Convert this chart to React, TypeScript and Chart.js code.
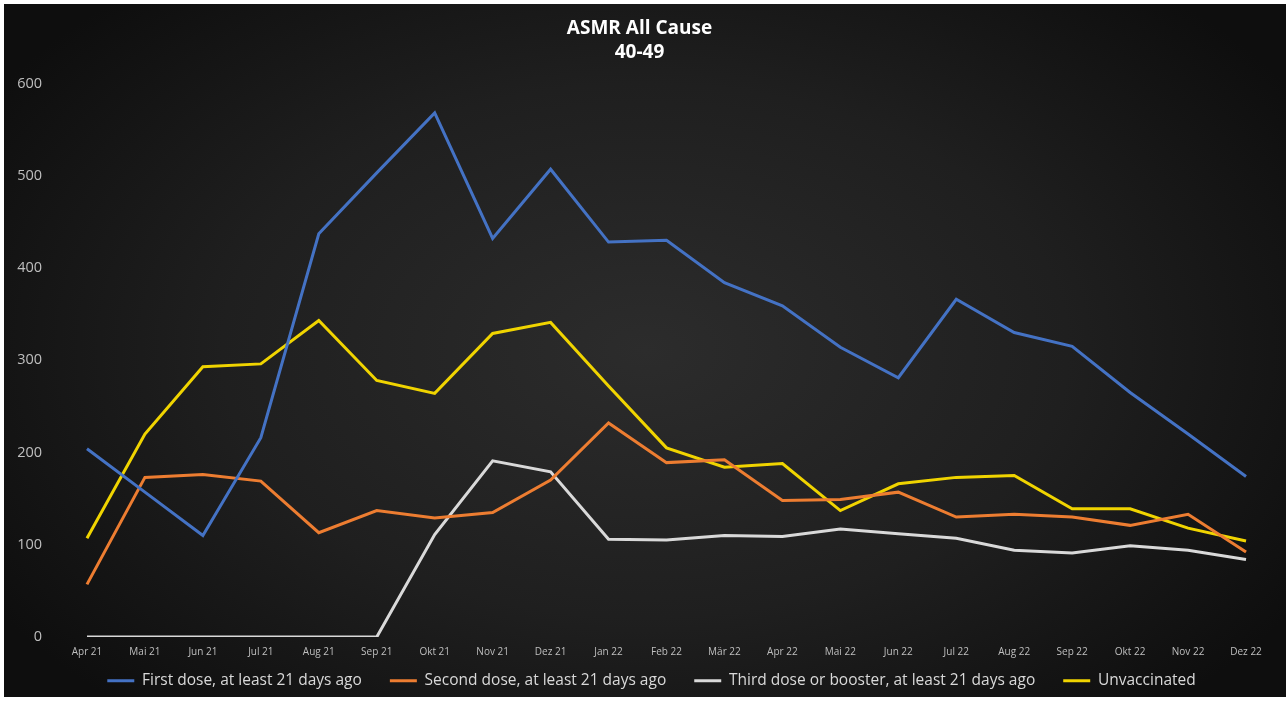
import React, { useEffect, useRef } from "react";
import { Chart, registerables } from "chart.js";

Chart.register(...registerables);

const months = ["Apr 21", "Mai 21", "Jun 21", "Jul 21", "Aug 21", "Sep 21", "Okt 21", "Nov 21", "Dez 21", "Jan 22", "Feb 22", "Mär 22", "Apr 22", "Mai 22", "Jun 22", "Jul 22", "Aug 22", "Sep 22", "Okt 22", "Nov 22", "Dez 22"];
const firstDose = [204, 157, 110, 216, 437, 503, 568, 432, 507, 428, 430, 384, 359, 314, 281, 366, 330, 315, 265, 220, 174];
const secondDose = [57, 173, 176, 169, 113, 137, 129, 135, 170, 232, 189, 192, 148, 149, 157, 130, 133, 130, 121, 133, 92];
const thirdDose = [0, 0, 0, 0, 0, 0, 111, 191, 179, 106, 105, 110, 109, 117, 112, 107, 94, 91, 99, 94, 84];
const unvaccinated = [107, 220, 293, 296, 343, 278, 264, 329, 341, 272, 205, 184, 188, 137, 166, 173, 175, 139, 139, 118, 104];
const seriesNames = ["First dose, at least 21 days ago", "Second dose, at least 21 days ago", "Third dose or booster, at least 21 days ago", "Unvaccinated"];
const seriesColors = ["#4472C4", "#ED7D31", "#D9D9D9", "#F0D400"];
const titleLines = ["ASMR All Cause", "40-49"];

const legendShift = {
  id: "legendShift",
  afterLayout(chart: any) {
    const lg = chart.legend;
    if (lg) {
      lg.top -= 13;
      lg.left += 12;
      lg.right += 12;
    }
  },
};

export default function App() {
  const ref = useRef<HTMLCanvasElement | null>(null);
  useEffect(() => {
    if (!ref.current) return;
    const values = [firstDose, secondDose, thirdDose, unvaccinated];
    const chart = new Chart(ref.current, {
      type: "line",
      data: {
        labels: months,
        datasets: values.map((d, i) => ({
          label: seriesNames[i],
          data: d,
          borderColor: seriesColors[i],
          backgroundColor: seriesColors[i],
          borderWidth: 3,
          pointRadius: 0,
          tension: 0,
        })),
      },
      plugins: [legendShift],
      options: {
        animation: false,
        responsive: false,
        layout: { padding: { left: 0, right: 11, bottom: 0 } },
        plugins: {
          title: {
            display: true,
            text: titleLines,
            color: "#ffffff",
            font: { family: "Open Sans", size: 19, weight: "bold", lineHeight: 1.3 },
            padding: { top: 12, bottom: 18 },
          },
          legend: {
            position: "bottom",
            maxHeight: 39,
            labels: {
              color: "#d9d9d9",
              font: { family: "Open Sans", size: 15.5 },
              boxWidth: 27,
              boxHeight: 3,
              padding: 28,
              generateLabels: (c: any) => {
                const items = Chart.defaults.plugins.legend.labels.generateLabels(c);
                return items.map((it: any) => ({ ...it, lineWidth: 0, fillStyle: it.strokeStyle }));
              },
            },
          },
          tooltip: { enabled: false },
        },
        scales: {
          x: {
            offset: true,
            grid: { display: false, drawTicks: false },
            border: { display: false },
            ticks: { color: "#bfbfbf", font: { family: "Open Sans", size: 10 }, maxRotation: 0, autoSkip: false, padding: 9 },
            afterFit: (s: any) => { s.height = 21; },
          },
          y: {
            min: 0,
            max: 600,
            grid: { display: false, drawTicks: false },
            border: { display: false },
            ticks: { stepSize: 100, color: "#bfbfbf", font: { family: "Open Sans", size: 14.5 }, padding: 16 },
            afterFit: (s: any) => { s.width = 54; },
          },
        },
      },
    });
    return () => chart.destroy();
  }, []);
  return (
    <div
      style={{
        position: "fixed",
        left: 4,
        top: 4,
        width: 1282,
        height: 693,
        background: "radial-gradient(ellipse 60% 70% at 50% 50%, #2c2c2c 0%, #1f1f1f 55%, #0e0e0e 100%)",
      }}
    >
      <canvas ref={ref} width={1282} height={693} />
    </div>
  );
}
